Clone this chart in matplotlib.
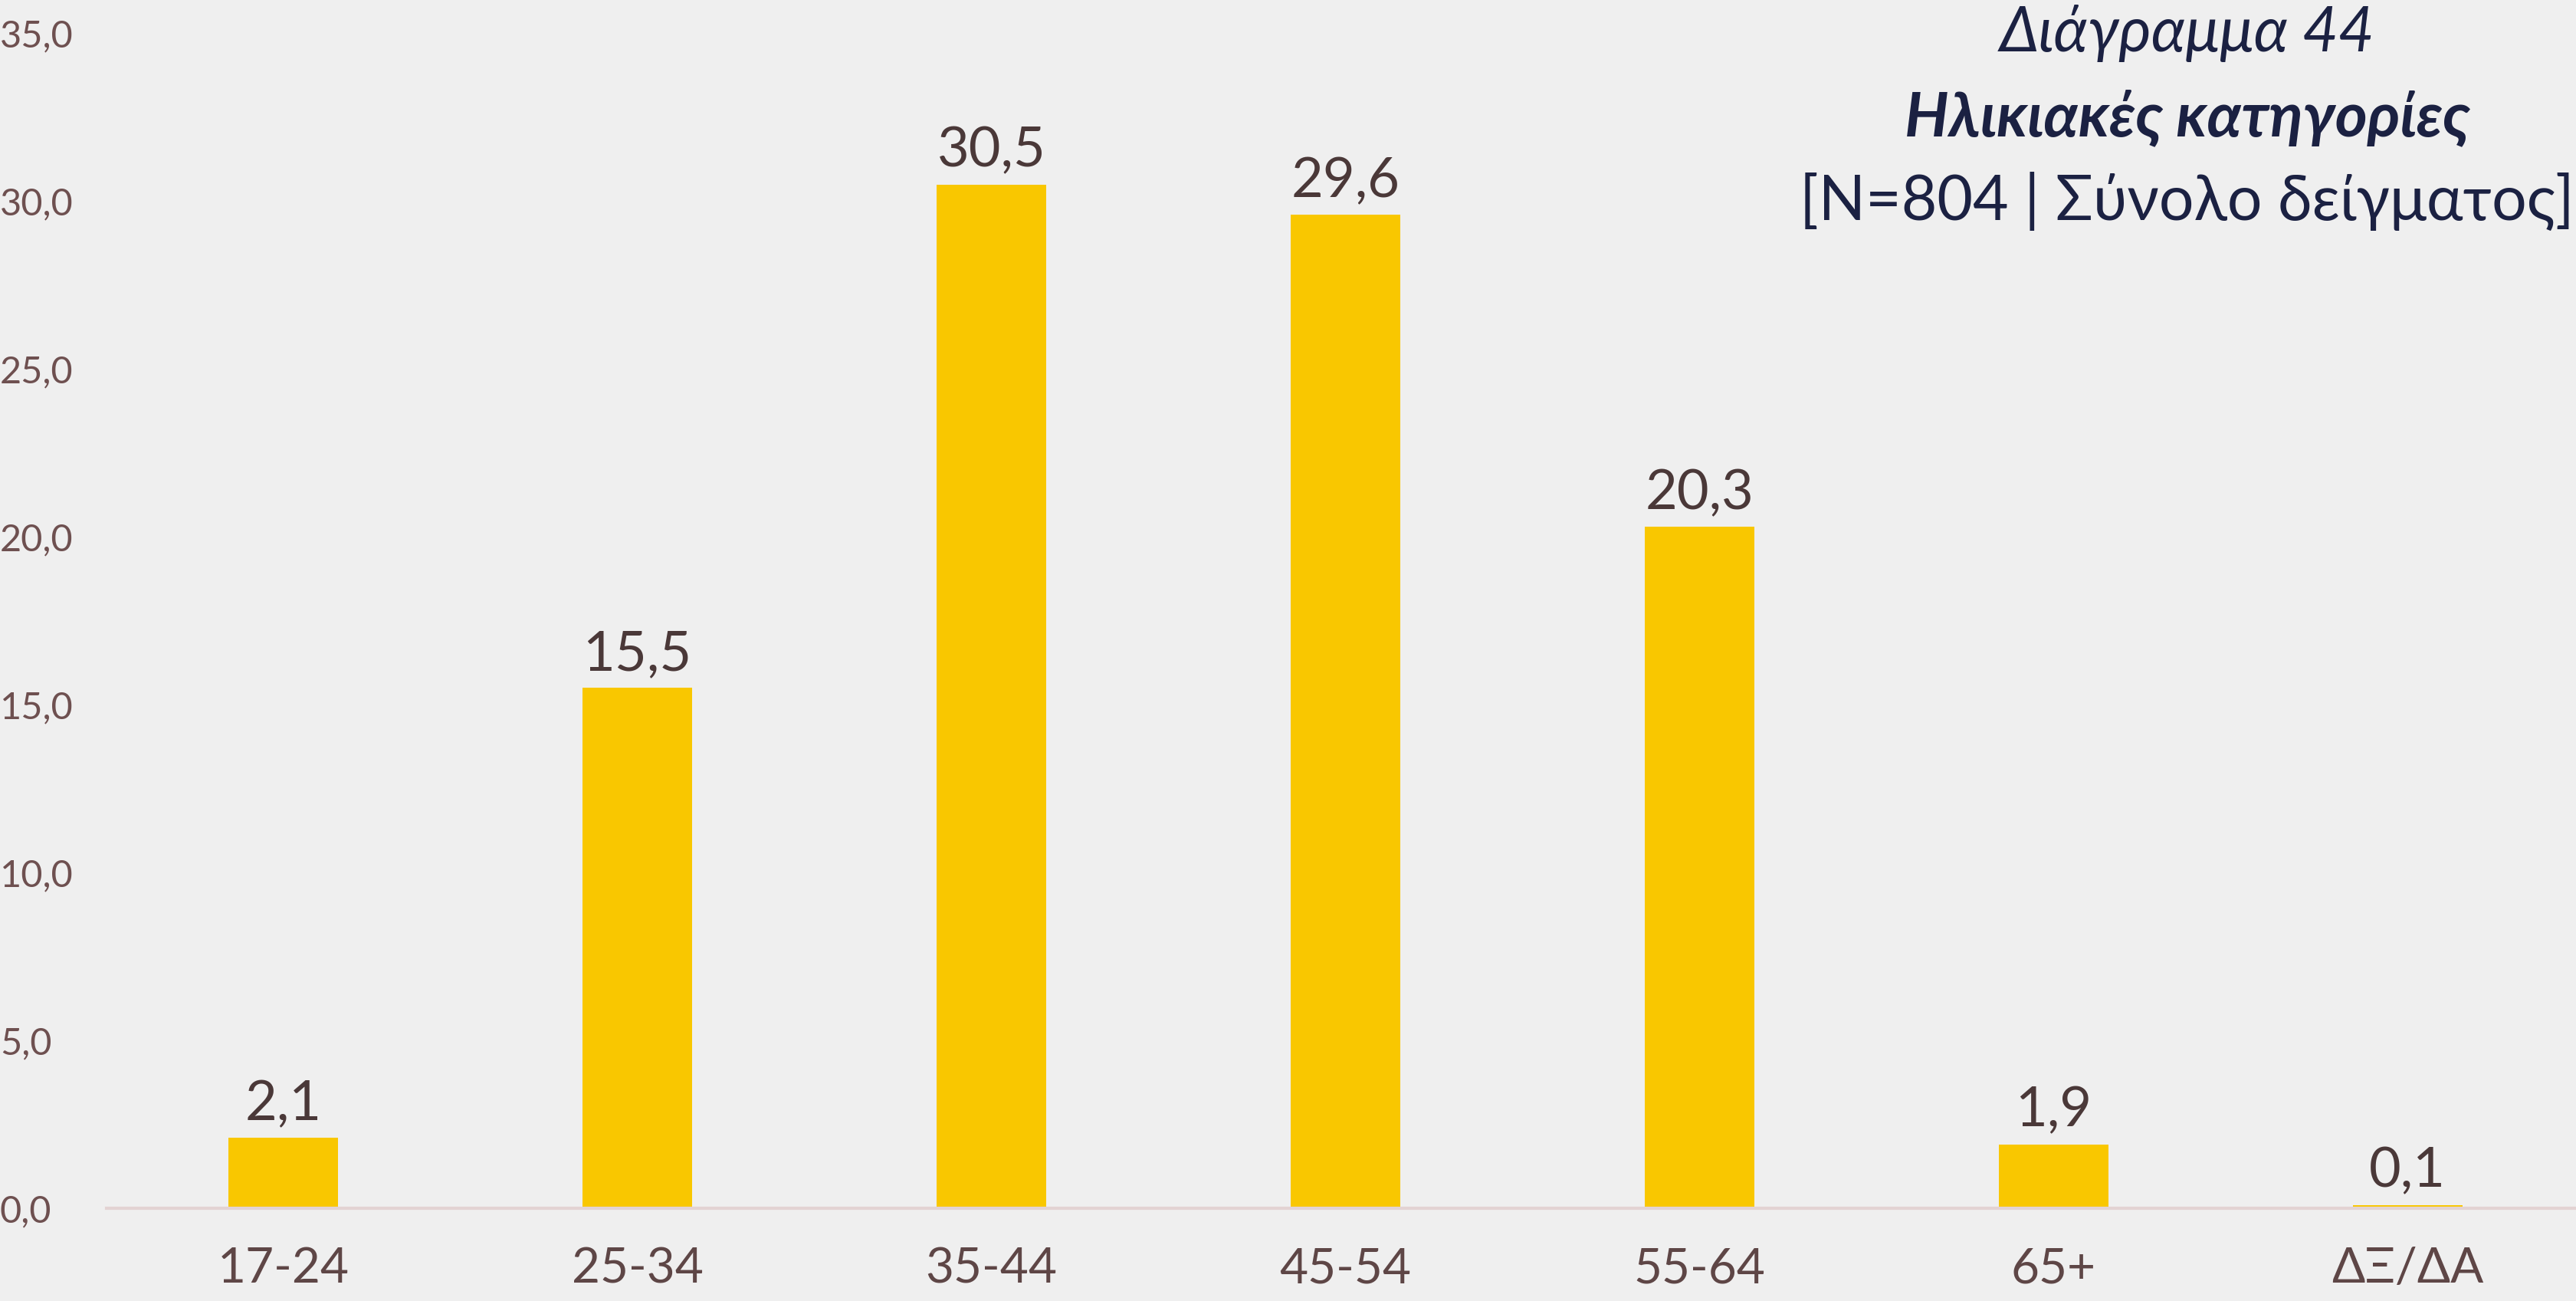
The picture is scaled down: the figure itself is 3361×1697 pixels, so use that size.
import matplotlib.pyplot as plt

plt.rcParams['font.family'] = ['Lato', 'DejaVu Sans']

# data
categories = ['17-24', '25-34', '35-44', '45-54', '55-64', '65+', 'ΔΞ/ΔΑ']
values = [2.1, 15.5, 30.5, 29.6, 20.3, 1.9, 0.1]
yticks = [0, 5, 10, 15, 20, 25, 30, 35]

bg = '#EFEFEF'
bar_color = '#F9C700'

fig = plt.figure(figsize=(16.805, 8.485), dpi=200, facecolor=bg)
ax = fig.add_axes([0.0413, 0.0713, 0.962, 0.903])
ax.set_facecolor(bg)

x = list(range(len(categories)))
bars = ax.bar(x, values, width=0.31, color=bar_color, zorder=2)

for xi, v in zip(x, values):
    ax.annotate(f'{v:.1f}'.replace('.', ','), (xi, v), xytext=(0, 4),
                textcoords='offset points', ha='center', va='bottom',
                fontsize=26, color='#4A3838')

ax.set_xlim(-0.5, len(categories) - 0.5)
ax.set_ylim(0, 35)
ax.set_xticks(x)
ax.set_xticklabels(categories, fontsize=23, color='#5E4646')
ax.set_yticks(yticks)
ax.set_yticklabels([f'{t:.1f}'.replace('.', ',') for t in yticks],
                   fontsize=17.5, color='#6E5050', ha='left')
ax.tick_params(axis='y', length=0, pad=50)
ax.tick_params(axis='x', length=0, pad=18)

for s in ['left', 'right', 'top']:
    ax.spines[s].set_visible(False)
ax.spines['bottom'].set_color('#E3D3D3')
ax.spines['bottom'].set_linewidth(1.5)

title_color = '#1B2142'
fig.text(0.849, 1 - 67 / 1697, 'Διάγραμμα 44', ha='center', va='baseline',
         fontsize=29, style='italic', color=title_color)
fig.text(0.849, 1 - 177 / 1697, 'Ηλικιακές κατηγορίες', ha='center', va='baseline',
         fontsize=29, style='italic', weight='bold', color=title_color)
fig.text(0.849, 1 - 287 / 1697, '[N=804 | Σύνολο δείγματος]', ha='center',
         va='baseline', fontsize=29, color=title_color)

fig.savefig('out.png', dpi=200, facecolor=bg)
